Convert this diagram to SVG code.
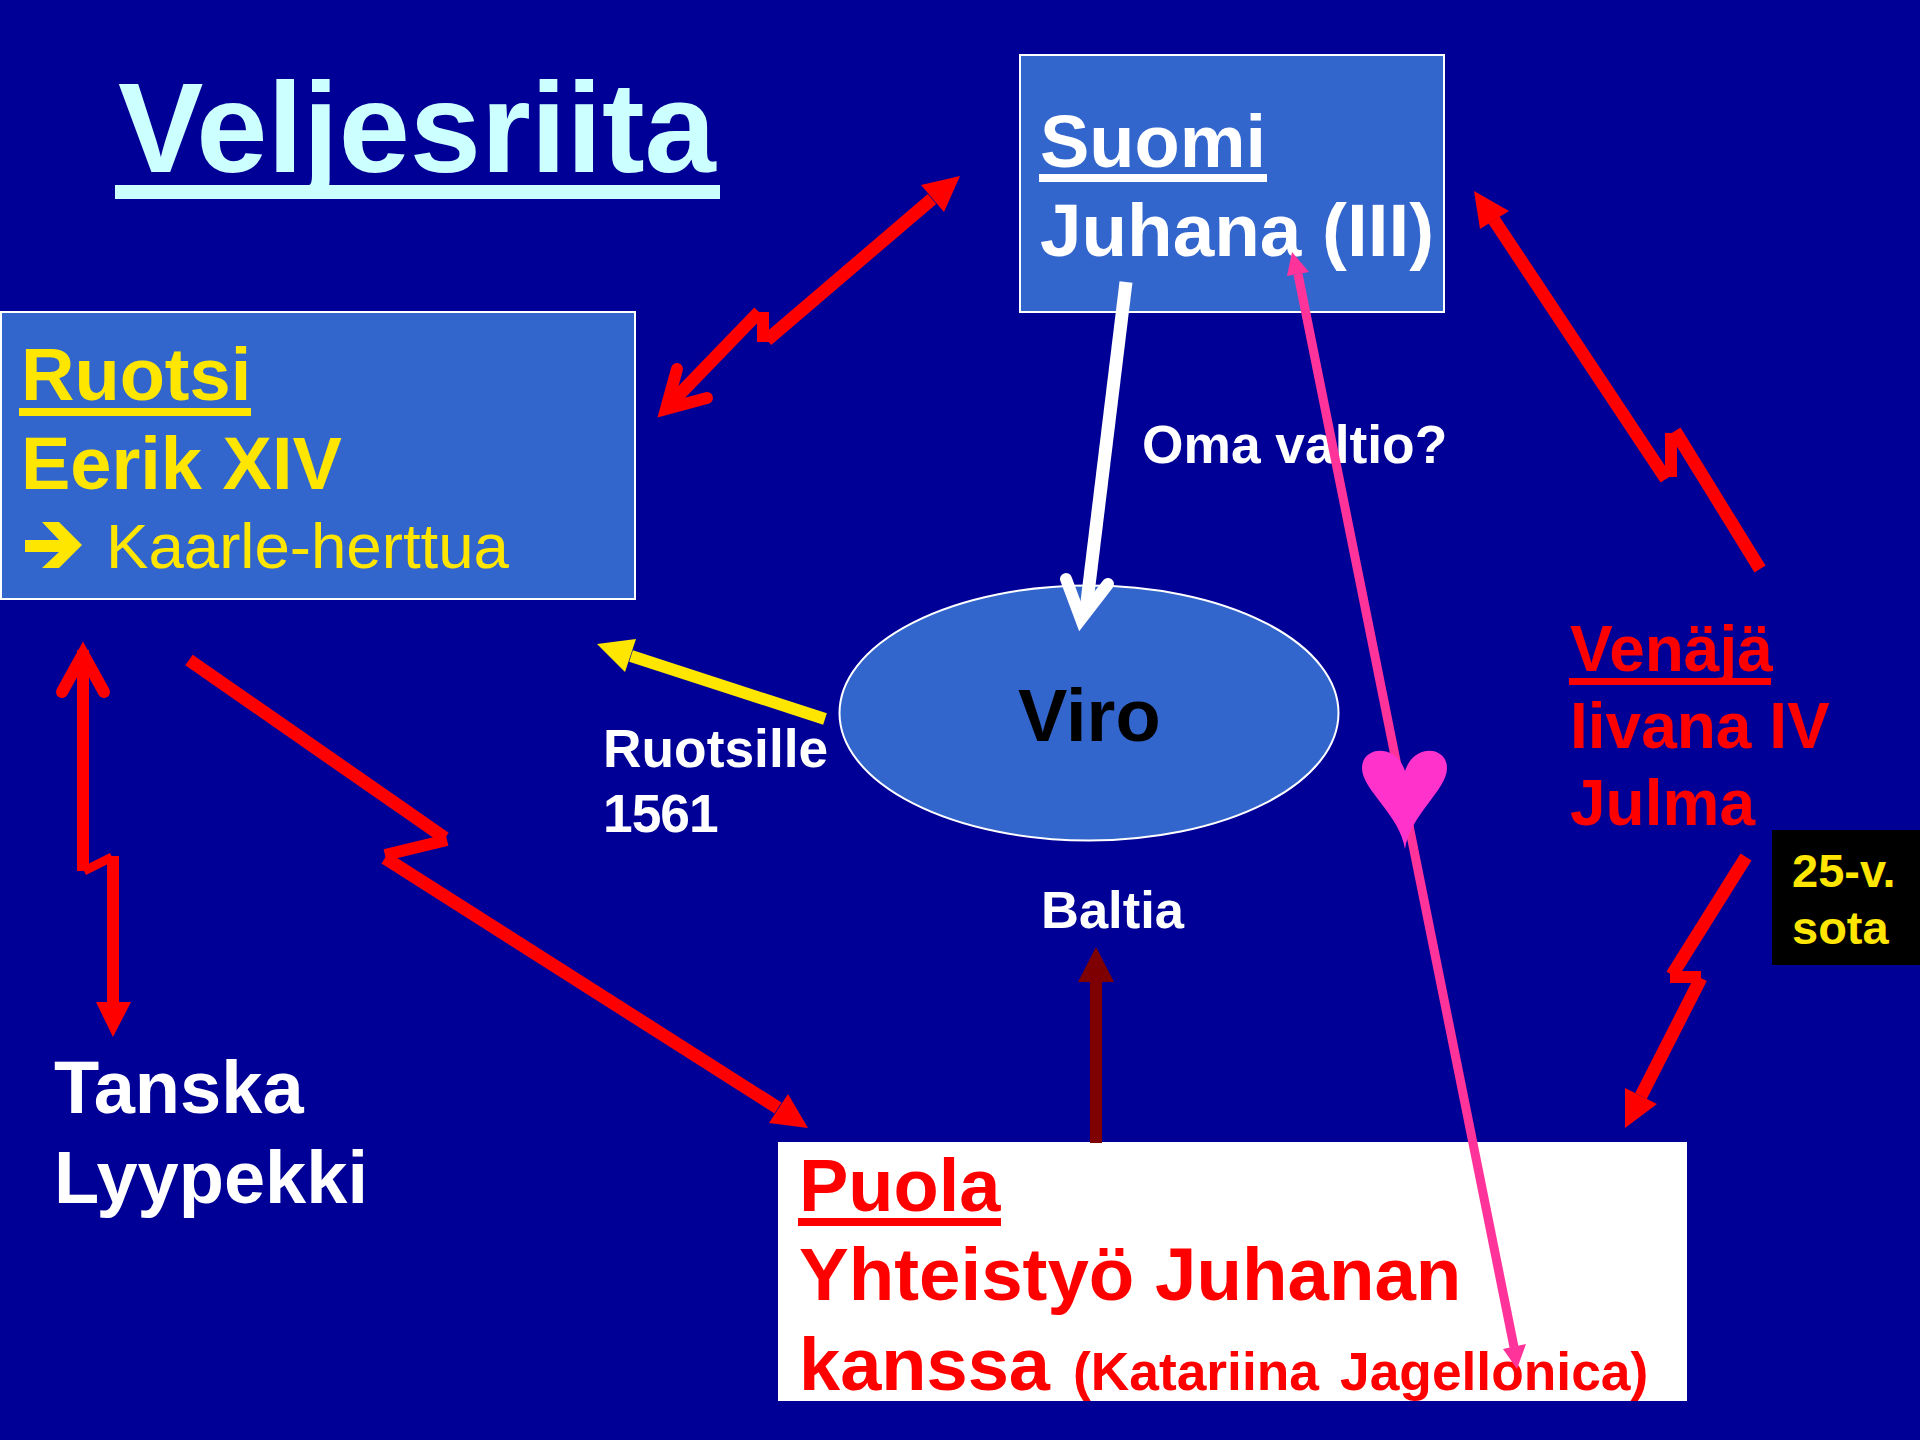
<svg xmlns="http://www.w3.org/2000/svg" width="1920" height="1440" viewBox="0 0 1920 1440">
<style>
text{font-family:"Liberation Sans",Arial,sans-serif;font-weight:bold}
.box{fill:#3366cc;stroke:#fff;stroke-width:2}
.y{fill:#ffe600}.w{fill:#fff}.r{fill:#f00}
.s28{font-size:74px}.s24{font-size:64px}.s20{font-size:53.33px}.s18{font-size:47px}
.lr{stroke:#f00;stroke-width:12;fill:none}
.ld{stroke:#f00;stroke-width:13;fill:none}
.stick{stroke-linecap:round;stroke-linejoin:miter;stroke-miterlimit:10}
</style>
<rect width="1920" height="1440" fill="#000096"/>
<g id="title">
<text x="118" y="172" font-size="128" fill="#ccffff">Veljesriita</text>
<rect x="115" y="185" width="605" height="14" fill="#ccffff"/>
</g>
<g id="suomi">
<rect class="box" x="1020" y="55" width="424" height="257"/>
<text class="w s28" x="1040" y="167">Suomi</text>
<rect class="w" x="1039" y="174" width="228" height="8"/>
<text class="w s28" x="1040" y="256" style="font-size:74.67px">Juhana (III)</text>
</g>
<g id="ruotsi">
<rect class="box" x="1" y="312" width="634" height="287"/>
<text class="y s28" x="21" y="400">Ruotsi</text>
<rect class="y" x="19" y="408" width="232" height="8"/>
<text class="y s28" x="21" y="489">Eerik XIV</text>
<text class="y" x="106" y="568" style="font-weight:normal;font-size:63.600px">Kaarle-herttua</text>
<polygon class="y" points="25,540 59,540 42,522 59,522 82,545 59,568 42,568 59,552 25,552"/>
</g>
<g id="viro">
<ellipse cx="1089" cy="713" rx="249.500" ry="127.500" fill="#3366cc" stroke="#fff" stroke-width="2"/>
<text class="s28" x="1018" y="741" fill="#000">Viro</text>
</g>
<g id="puola">
<rect x="778" y="1142" width="909" height="259" fill="#fff"/>
<text class="r s28" x="799" y="1211">Puola</text>
<rect class="r" x="798" y="1218" width="203" height="8"/>
<text class="r s28" x="799" y="1300" style="font-size:74.5px">Yhteistyö Juhanan</text>
<text class="r s28" x="799" y="1390">kanssa <tspan class="s20" x="1073">(Katariina </tspan><tspan class="s20" x="1340">Jagellonica)</tspan></text>
</g>
<g id="venaja">
<text class="r s24" x="1570" y="671">Venäjä</text>
<rect class="r" x="1569" y="678" width="202" height="7"/>
<text class="r s24" x="1570" y="748">Iivana IV</text>
<text class="r s24" x="1570" y="825">Julma</text>
</g>
<g id="sota">
<rect x="1772" y="830" width="148" height="135" fill="#000"/>
<text class="y s18" x="1792" y="887">25-v.</text>
<text class="y s18" x="1792" y="944">sota</text>
</g>
<g id="tanska">
<text class="w s28" x="54" y="1113">Tanska</text>
<text class="w s28" x="54" y="1203">Lyypekki</text>
</g>
<g id="labels">
<text class="w s20" x="1142" y="463">Oma valtio?</text>
<text class="w s20" x="603" y="767">Ruotsille</text>
<text class="w s20" x="603" y="832" letter-spacing="-1">1561</text>
<text class="w" x="1041" y="928" font-size="52.500">Baltia</text>
</g>
<g id="connectors">
<!-- Ruotsi <-> Suomi -->
<path class="ld" d="M932,199L767,340"/><path class="lr" d="M763,312V342"/><path class="ld" d="M759,312L672,402"/>
<polygon class="r" points="960,176 921,185 944,212"/>
<path class="lr stick" d="M677,369L666,409L707,398"/>
<!-- Ruotsi <-> Tanska -->
<path class="lr stick" d="M62,692L83,654L104,692"/>
<path class="lr" d="M83,650V871"/><path d="M84,871L112,857" stroke="#f00" stroke-width="9" fill="none"/><path class="lr" d="M113,856V1004"/>
<polygon class="r" points="96,1002 131,1002 113,1037"/>
<!-- Ruotsi -> Puola -->
<path class="ld" d="M189,660L445,838"/><path class="lr" d="M447,840L385,855"/><path class="ld" d="M385,858L778,1108"/>
<polygon class="r" points="808,1128 788,1094 769,1123"/>
<!-- Venaja -> Suomi -->
<path class="ld" d="M1494,220L1666,479"/><path class="lr" d="M1671,433V477"/><path class="ld" d="M1675,431L1760,569"/>
<polygon class="r" points="1474,191 1480,229 1509,211"/>
<!-- Venaja -> Puola -->
<path class="ld" d="M1746,857L1672,975"/><path class="lr" d="M1670,977H1701"/><path class="ld" d="M1701,978L1641,1096"/>
<polygon class="r" points="1625,1128 1625,1088 1657,1104"/>
<!-- Suomi -> Viro -->
<path d="M1126,282L1086,610" stroke="#fff" stroke-width="13" fill="none"/>
<path d="M1066,579L1081,619L1108,584" stroke="#fff" stroke-width="12" fill="none" class="stick"/>
<!-- Viro -> Ruotsi -->
<path d="M825,719L631,656" stroke="#ffe600" stroke-width="12" fill="none"/>
<polygon class="y" points="597,644 636,639 625,672"/>
<!-- Puola -> Baltia -->
<path d="M1096,1143V982" stroke="#7f0000" stroke-width="12" fill="none"/>
<polygon fill="#7f0000" points="1096,947 1078,982 1114,982"/>
<!-- Juhana <-> Katariina -->
<path d="M1298,274L1514,1347" stroke="#ff3399" stroke-width="9" fill="none"/>
<polygon fill="#ff3399" points="1292,252 1287,276 1309,272"/>
<polygon fill="#ff3399" points="1517,1369 1503,1349 1526,1344"/>
<path id="heart" fill="#ff33cc" d="M1405,849C1400,815 1362,790 1362,768C1362,746 1396,743 1405,771C1414,743 1447,746 1447,768C1447,790 1410,815 1405,849Z"/>
</g>
</svg>
